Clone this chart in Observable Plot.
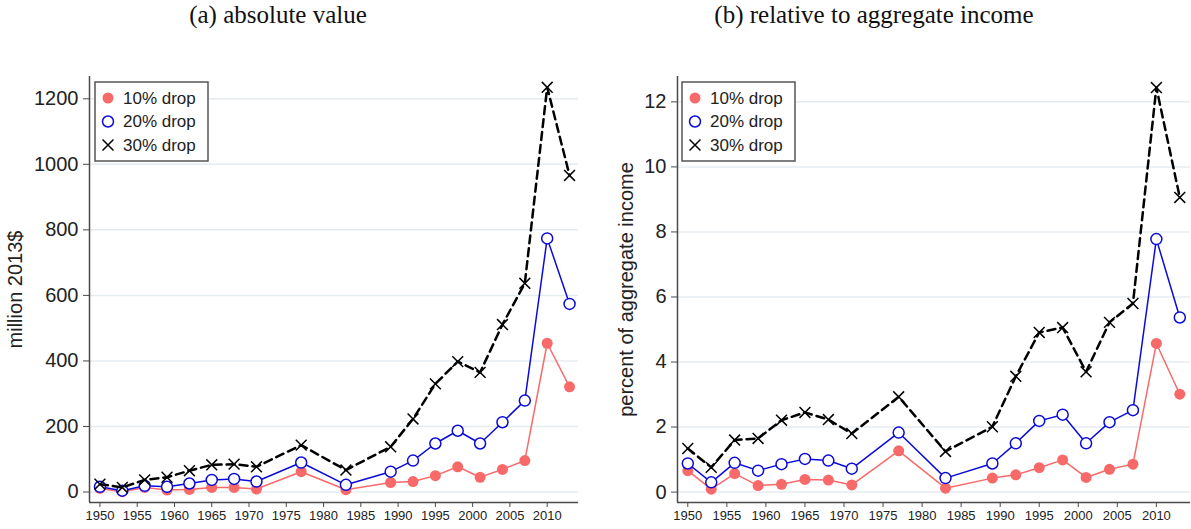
<!DOCTYPE html>
<html>
<head>
<meta charset="utf-8">
<script src="https://cdn.jsdelivr.net/npm/d3@7"></script>
<script src="https://cdn.jsdelivr.net/npm/@observablehq/plot@0.6"></script>
<style>
  body { margin: 0; background: #fff; }
  #root { position: relative; width: 1191px; height: 529px; overflow: hidden;
          font-family: "Liberation Sans", Arial, sans-serif; }
  .title { position: absolute; top: 1px; font-family: "Liberation Serif", serif;
           font-size: 25px; color: #111; transform: translateX(-50%); white-space: nowrap; }
  .panel { position: absolute; top: 50px; }
  .legend { position: absolute; }
</style>
</head>
<body>
<div id="root"></div>
<script>
// Survey years
const years = [1950, 1953, 1956, 1959, 1962, 1965, 1968, 1971, 1977, 1983,
               1989, 1992, 1995, 1998, 2001, 2004, 2007, 2010, 2013];

// (a) absolute value, million 2013$
const abs10 = [11, 1, 14, 6, 8, 14, 14, 9, 62, 7, 29, 32, 50, 77, 45, 69, 96, 454, 321];
const abs20 = [16, 4, 19, 16, 26, 37, 40, 32, 90, 22, 62, 96, 148, 187, 148, 213, 279, 774, 574];
const abs30 = [24, 14, 37, 45, 65, 83, 85, 77, 143, 67, 138, 223, 330, 398, 365, 511, 637, 1235, 966];

// (b) relative to aggregate income, percent
const rel10 = [0.66, 0.09, 0.57, 0.20, 0.24, 0.39, 0.37, 0.22, 1.27, 0.12, 0.43, 0.53, 0.75, 0.99, 0.45, 0.70, 0.86, 4.57, 3.01];
const rel20 = [0.88, 0.30, 0.90, 0.66, 0.86, 1.02, 0.97, 0.72, 1.83, 0.43, 0.88, 1.50, 2.19, 2.38, 1.50, 2.15, 2.52, 7.78, 5.37];
const rel30 = [1.34, 0.76, 1.60, 1.65, 2.21, 2.45, 2.23, 1.80, 2.93, 1.25, 2.01, 3.56, 4.91, 5.06, 3.70, 5.22, 5.80, 12.44, 9.06];

const seriesNames = ["10% drop", "20% drop", "30% drop"];
const xTicks = [1950, 1955, 1960, 1965, 1970, 1975, 1980, 1985, 1990, 1995, 2000, 2005, 2010];
const absTicks = [0, 200, 400, 600, 800, 1000, 1200];
const relTicks = [0, 2, 4, 6, 8, 10, 12];

const RED = "#f86a6a", BLUE = "#0b0bd9", BLACK = "#000";
const AXIS = "#4a4a4a", GRID = "#e4ecf0", INK = "#222";

function rows(values) {
  return years.map((year, i) => ({year, value: values[i]}));
}

function panel({s10, s20, s30, yDomain, yTicks, xDomain, width, marginLeft, marginRight, label, labelOffset}) {
  const d10 = rows(s10), d20 = rows(s20), d30 = rows(s30);
  return Plot.plot({
    width, height: 479,
    marginTop: 26, marginBottom: 27, marginLeft, marginRight,
    style: {fontFamily: "'Liberation Sans', Arial, sans-serif", color: INK, background: "#fff"},
    x: {domain: xDomain},
    y: {domain: yDomain},
    marks: [
      Plot.gridY(yTicks, {stroke: GRID, strokeOpacity: 1, strokeWidth: 1.5}),
      Plot.axisY(yTicks, {tickSize: 6, tickPadding: 5, fontSize: 20, stroke: AXIS, tickFormat: "d",
                          label, labelAnchor: "center", labelOffset, labelArrow: "none"}),
      Plot.axisX(xTicks, {tickSize: 5, tickPadding: 3, fontSize: 13, stroke: AXIS,
                          tickFormat: "d", label: null}),
      Plot.ruleX([xDomain[0]], {y1: yDomain[0], y2: yDomain[1], stroke: AXIS, strokeWidth: 1.5}),
      Plot.ruleY([yDomain[0]], {x1: xDomain[0], x2: xDomain[1], stroke: AXIS, strokeWidth: 1.5}),
      Plot.lineY(d10, {x: "year", y: "value", stroke: RED, strokeWidth: 1.5}),
      Plot.dot(d10, {x: "year", y: "value", r: 5.5, fill: RED, stroke: "none"}),
      Plot.lineY(d20, {x: "year", y: "value", stroke: BLUE, strokeWidth: 1.5}),
      Plot.dot(d20, {x: "year", y: "value", r: 5.5, fill: "#fff", stroke: BLUE, strokeWidth: 1.5}),
      Plot.lineY(d30, {x: "year", y: "value", stroke: BLACK, strokeWidth: 2.5, strokeDasharray: "8,5"}),
      Plot.dot(d30, {x: "year", y: "value", r: 5, symbol: "times", stroke: BLACK, strokeWidth: 1.5})
    ]
  });
}

function legend(left, top) {
  const w = 113, h = 79;
  const svg = d3.create("svg").attr("width", w + 2).attr("height", h + 2)
    .attr("class", "legend").style("left", left + "px").style("top", top + "px");
  svg.append("rect").attr("x", 1).attr("y", 1).attr("width", w).attr("height", h)
    .attr("fill", "#fff").attr("stroke", "#555").attr("stroke-width", 1.5);
  const styles = [
    {type: d3.symbolCircle, size: 95, fill: RED, stroke: "none"},
    {type: d3.symbolCircle, size: 95, fill: "#fff", stroke: BLUE},
    {type: d3.symbolTimes, size: 80, fill: "none", stroke: BLACK}
  ];
  seriesNames.forEach((name, i) => {
    const cy = 17 + i * 23.5;
    const s = styles[i];
    svg.append("path").attr("d", d3.symbol(s.type, s.size)())
      .attr("transform", `translate(14,${cy})`)
      .attr("fill", s.fill).attr("stroke", s.stroke).attr("stroke-width", 1.5);
    svg.append("text").attr("x", 29).attr("y", cy).attr("dy", "0.35em")
      .attr("font-size", 17).attr("fill", INK)
      .attr("font-family", "'Liberation Sans', Arial, sans-serif").text(name);
  });
  return svg.node();
}

const root = document.getElementById("root");

function addTitle(text, cx) {
  const t = document.createElement("div");
  t.className = "title";
  t.style.left = cx + "px";
  t.textContent = text;
  root.appendChild(t);
}

addTitle("(a) absolute value", 278);
addTitle("(b) relative to aggregate income", 874);

const left = panel({
  s10: abs10, s20: abs20, s30: abs30,
  yDomain: [-32, 1268], yTicks: absTicks, xDomain: [1948.6, 2014.2],
  width: 595, marginLeft: 89, marginRight: 17,
  label: "million 2013$", labelOffset: 82
});
left.classList.add("panel");
left.style.left = "0px";
root.appendChild(left);

const right = panel({
  s10: rel10, s20: rel20, s30: rel30,
  yDomain: [-0.32, 12.78], yTicks: relTicks, xDomain: [1948.68, 2014.37],
  width: 596, marginLeft: 82, marginRight: 1,
  label: "percent of aggregate income", labelOffset: 59
});
right.classList.add("panel");
right.style.left = "595px";
root.appendChild(right);

root.appendChild(legend(94, 81));
root.appendChild(legend(681, 81));
</script>
</body>
</html>
